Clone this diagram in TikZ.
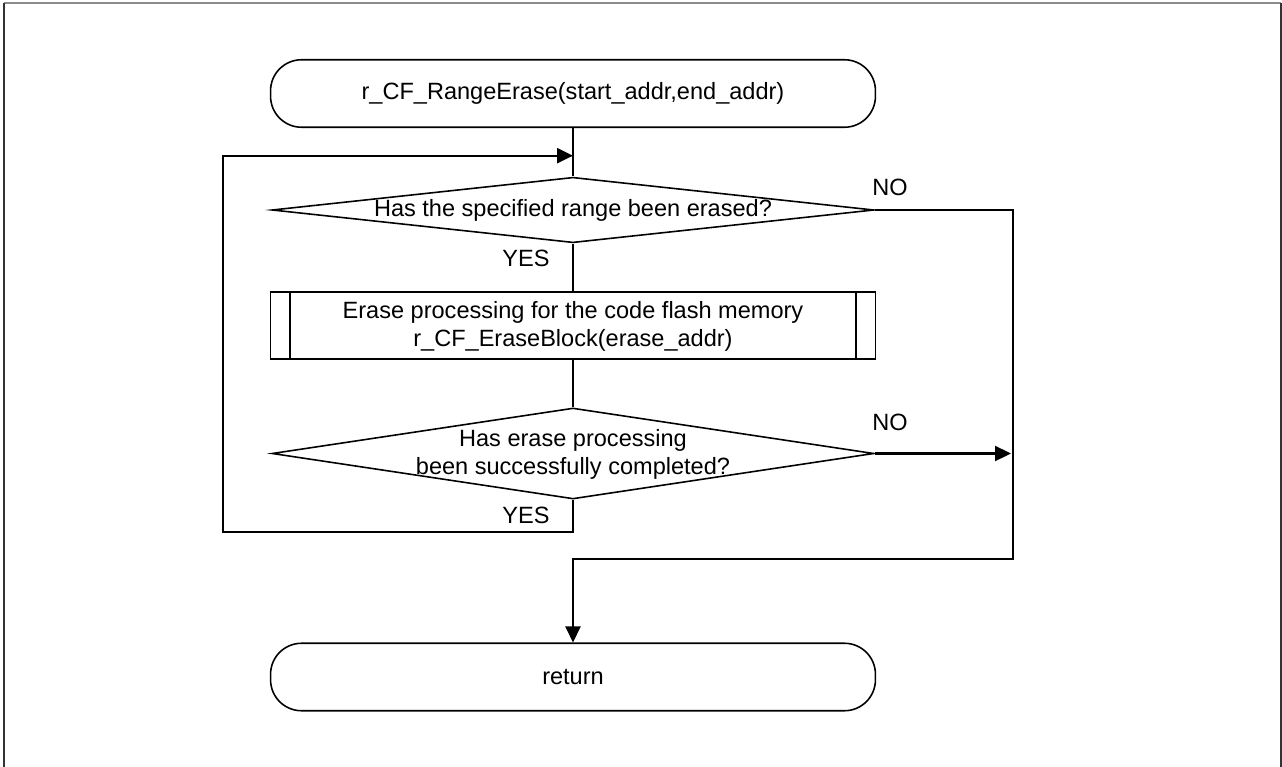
\documentclass[tikz,border=0pt]{standalone}
\usepackage{fontspec}
\setmainfont{Liberation Sans}
\usetikzlibrary{arrows.meta,shapes.geometric}
\begin{document}
\begin{tikzpicture}[x=0.02cm,y=-0.02cm,
  every node/.style={font=\fontsize{13.4pt}{15.9pt}\selectfont},
  terminal/.style={draw, line width=0.9pt, rounded corners=0.62cm,
    minimum width=12.1cm, minimum height=1.35cm, inner sep=0pt},
  procbox/.style={draw, line width=0.9pt,
    minimum width=12.1cm, minimum height=1.34cm, inner sep=0pt},
  decision/.style={draw, diamond, line width=0.9pt, inner sep=0pt,
    minimum width=12.04cm},
  caption/.style={align=center, inner sep=0pt},
  tag/.style={inner sep=0pt},
  flow/.style={line width=1.3pt},
  arrowflow/.style={flow, -{Triangle[length=0.32cm,width=0.3cm]}}
]
\useasboundingbox (0,0) rectangle (1282,767);

% outer frame
\draw[black!45, line width=1.1pt] (4,3) -- (1281,3);
\draw[black!80, line width=1.1pt] (4,770) -- (4,3);
\draw[black!80, line width=1.1pt] (1281,3) -- (1281,770);

% shapes
\node[terminal] (start) at (573,93.5) {r\_CF\_RangeErase(start\_addr,end\_addr)};

\node[decision, minimum height=1.31cm] (d1) at (573,210) {};
\node[caption] (d1t) at (d1.center) {Has the specified range been erased?};

\node[procbox] (proc) at (573,325.5) {};
\node[caption] (proct) at (573,326) {Erase processing for the code flash memory\\r\_CF\_EraseBlock(erase\_addr)};
\draw[line width=0.9pt] ([xshift=0.4cm]proc.north west) -- ([xshift=0.4cm]proc.south west);
\draw[line width=0.9pt] ([xshift=-0.4cm]proc.north east) -- ([xshift=-0.4cm]proc.south east);

\node[decision, minimum height=1.82cm] (d2) at (573,453.5) {};
\node[caption] (d2t) at (573,454.5) {Has erase processing\\been successfully completed?};

\node[terminal] (ret) at (573,677) {return};

% branch labels
\node[tag] (no1) at (890,187) {NO};
\node[tag] (yes1) at (526,258) {YES};
\node[tag] (no2) at (890,422) {NO};
\node[tag] (yes2) at (526,515) {YES};

% connectors
\coordinate (loopjoin) at (573,155.7);
\coordinate (loopbottom) at (223,532);
\coordinate (rightrail) at (1013,559);
\coordinate (railhit) at (1011,453.5);

\draw[flow] (start.south) -- (d1.north);
\draw[flow] (d1.south) -- (proc.north);
\draw[flow] (proc.south) -- (d2.north);
\draw[arrowflow] (d2.south) |- (loopbottom) |- (loopjoin);
\draw[arrowflow] (d1.east) -| (rightrail) -| (ret.north);
\draw[arrowflow] (d2.east) -- (railhit);
\end{tikzpicture}
\end{document}
